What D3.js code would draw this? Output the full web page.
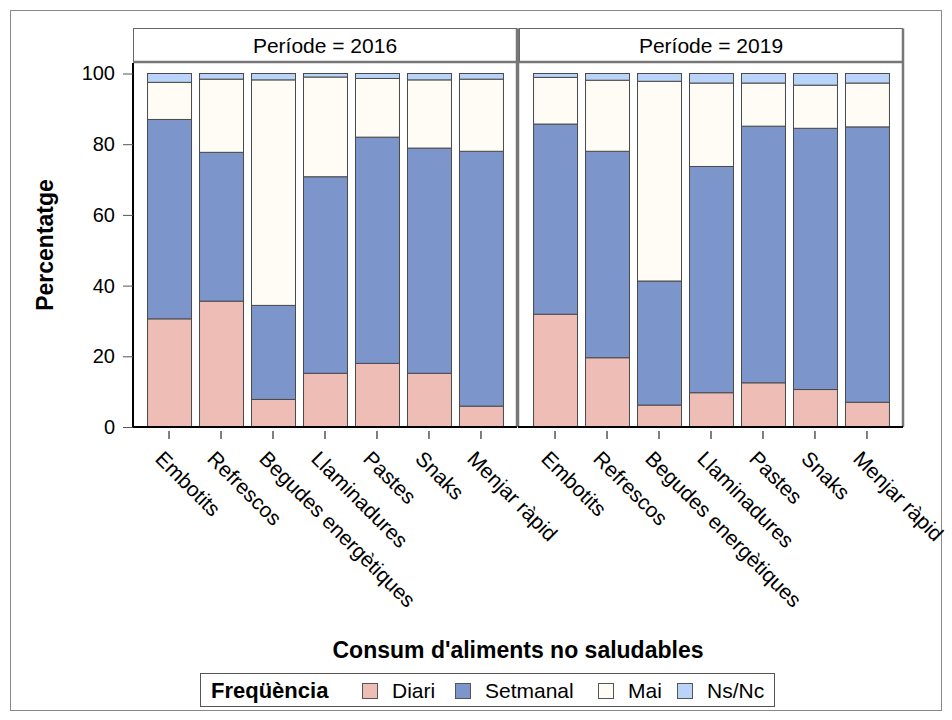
<!DOCTYPE html>
<html>
<head>
<meta charset="utf-8">
<script src="https://cdn.jsdelivr.net/npm/d3@7"></script>
<style>
  body { margin: 0; background: #fff; }
  svg { font-family: "Liberation Sans", Arial, sans-serif; }
</style>
</head>
<body>
<div id="chart"></div>
<script>
// food categories (x axis) and periods (panels)
var categories = ['Embotits', 'Refrescos', 'Begudes energètiques', 'Llaminadures',
                  'Pastes', 'Snaks', 'Menjar ràpid'];
var periods = ['2016', '2019'];
var freqs = ['Diari', 'Setmanal', 'Mai', 'Ns/Nc'];
var colors = ['#EEBDB6', '#7C96CB', '#FFFCF5', '#BAD3F8'];
var yTicks = [0, 20, 40, 60, 80, 100];

// percentages, one array per frequency, in category order
var diari2016    = [30.6, 35.6, 7.8, 15.2, 18.0, 15.2, 5.9];
var setmanal2016 = [56.4, 42.1, 26.6, 55.6, 64.0, 63.7, 72.1];
var mai2016      = [10.5, 20.7, 63.8, 28.2, 16.6, 19.3, 20.4];
var nsnc2016     = [2.5, 1.6, 1.8, 1.0, 1.4, 1.8, 1.6];

var diari2019    = [31.9, 19.6, 6.2, 9.7, 12.5, 10.6, 7.0];
var setmanal2019 = [53.8, 58.4, 35.1, 64.0, 72.6, 73.9, 77.9];
var mai2019      = [13.2, 20.1, 56.5, 23.6, 12.2, 12.2, 12.4];
var nsnc2019     = [1.1, 1.9, 2.2, 2.7, 2.7, 3.3, 2.7];

var seriesByPeriod = {
  '2016': [diari2016, setmanal2016, mai2016, nsnc2016],
  '2019': [diari2019, setmanal2019, mai2019, nsnc2019]
};

var width = 952, height = 720;
var plotTop = 63, plotBottom = 427;
var panelX = [[133, 517], [519, 903]];
var stripTop = 28.5;
var font = '"Liberation Sans", Arial, sans-serif';

var svg = d3.select('#chart').append('svg')
    .attr('width', width)
    .attr('height', height);

// outer frame
svg.append('rect')
    .attr('x', 10.5).attr('y', 10.5)
    .attr('width', 931).attr('height', 700)
    .attr('fill', 'none').attr('stroke', '#888').attr('stroke-width', 1);

var y = d3.scaleLinear().domain([0, 100]).range([plotBottom, plotTop + 10.5]);

periods.forEach(function(p, pi) {
  var x0 = panelX[pi][0], x1 = panelX[pi][1];
  var x = d3.scaleBand().domain(categories).range([x0, x1])
      .paddingInner(0.154).paddingOuter(0.27);

  var rows = categories.map(function(c, i) {
    var row = {cat: c};
    freqs.forEach(function(f, k) { row[f] = seriesByPeriod[p][k][i]; });
    return row;
  });
  var stacked = d3.stack().keys(freqs)(rows);

  var g = svg.append('g');

  // strip header
  g.append('rect')
      .attr('x', x0 + 0.5).attr('y', stripTop)
      .attr('width', x1 - x0 - 1).attr('height', plotTop - stripTop - 1)
      .attr('fill', '#fff').attr('stroke', '#666').attr('stroke-width', 1);
  g.append('line')
      .attr('x1', x0).attr('x2', x1)
      .attr('y1', plotTop - 1).attr('y2', plotTop - 1)
      .attr('stroke', '#777').attr('stroke-width', 2.5);
  g.append('text')
      .attr('x', (x0 + x1) / 2).attr('y', (stripTop + plotTop) / 2 + 7)
      .attr('text-anchor', 'middle')
      .attr('font-size', 21)
      .text('Període = ' + p);

  // bars
  g.selectAll('g.layer').data(stacked).enter().append('g')
      .attr('class', 'layer')
      .attr('fill', function(d, k) { return colors[k]; })
    .selectAll('rect').data(function(d) { return d; }).enter().append('rect')
      .attr('x', function(d) { return x(d.data.cat) + 0.5; })
      .attr('y', function(d) { return y(d[1]); })
      .attr('width', x.bandwidth())
      .attr('height', function(d) { return y(d[0]) - y(d[1]); })
      .attr('stroke', '#4a4a4a').attr('stroke-width', 1);

  // panel borders
  g.append('line')
      .attr('x1', x1).attr('x2', x1).attr('y1', stripTop).attr('y2', plotBottom)
      .attr('stroke', '#777').attr('stroke-width', 2.5);
  if (pi === 1) {
    g.append('line')
        .attr('x1', x0 - 1).attr('x2', x0 - 1).attr('y1', stripTop).attr('y2', plotBottom)
        .attr('stroke', '#777').attr('stroke-width', 2.5);
  }

  // x axis
  var xAxis = g.append('g')
      .attr('transform', 'translate(0,' + plotBottom + ')')
      .call(d3.axisBottom(x).tickSize(12).tickPadding(0).tickSizeOuter(0));
  xAxis.select('.domain').attr('stroke', '#000').attr('stroke-width', 2)
      .attr('d', 'M' + (x0 - 1) + ',0H' + x1);
  xAxis.selectAll('.tick line').attr('stroke', '#000').attr('y1', 4);
  xAxis.selectAll('.tick text')
      .attr('font-size', 21)
      .attr('font-family', font)
      .attr('fill', '#000')
      .attr('text-anchor', 'start')
      .attr('y', 0).attr('dy', 0)
      .attr('transform', 'translate(-15,33) rotate(45)');
});

// y axis
var yAxis = svg.append('g')
    .attr('transform', 'translate(' + panelX[0][0] + ',0)')
    .call(d3.axisLeft(y).tickValues(yTicks).tickSize(10).tickPadding(8).tickSizeOuter(0));
yAxis.select('.domain').attr('stroke', '#000').attr('stroke-width', 2)
    .attr('d', 'M0,' + plotTop + 'V' + plotBottom);
yAxis.selectAll('.tick line').attr('stroke', '#555');
yAxis.selectAll('.tick text')
    .attr('font-size', 20)
    .attr('font-family', font)
    .attr('fill', '#000');

// axis titles
svg.append('text')
    .attr('transform', 'translate(53,' + 245 + ') rotate(-90)')
    .attr('text-anchor', 'middle')
    .attr('font-size', 23).attr('font-weight', 'bold')
    .text('Percentatge');

svg.append('text')
    .attr('x', 518).attr('y', 658)
    .attr('text-anchor', 'middle')
    .attr('font-size', 23).attr('font-weight', 'bold')
    .text("Consum d'aliments no saludables");

// legend
var legend = svg.append('g');
legend.append('rect')
    .attr('x', 200.5).attr('y', 673.5).attr('width', 574).attr('height', 33)
    .attr('fill', '#fff').attr('stroke', '#555');
legend.append('text')
    .attr('x', 211).attr('y', 698)
    .attr('font-size', 22).attr('font-weight', 'bold')
    .text('Freqüència');
var legendX = [362, 455, 598, 677];
freqs.forEach(function(f, k) {
  legend.append('rect')
      .attr('x', legendX[k] + 0.5).attr('y', 683.5).attr('width', 15).attr('height', 15)
      .attr('fill', colors[k]).attr('stroke', '#555');
  legend.append('text')
      .attr('x', legendX[k] + 30).attr('y', 698)
      .attr('font-size', 21)
      .text(f);
});
</script>
</body>
</html>
